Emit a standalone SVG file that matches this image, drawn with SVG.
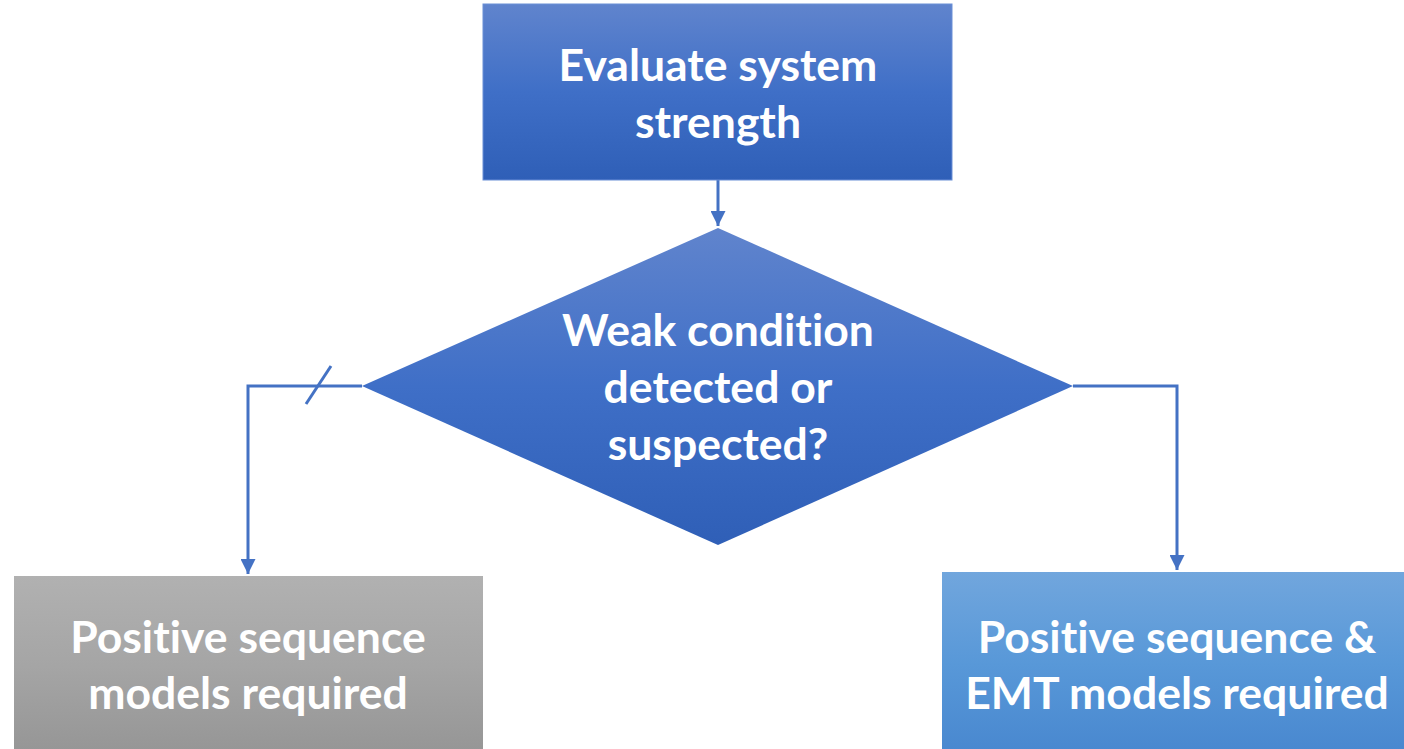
<svg xmlns="http://www.w3.org/2000/svg" width="1404" height="749" viewBox="0 0 1404 749">
<defs>
<linearGradient id="gBlue" x1="0" y1="0" x2="0" y2="1"><stop offset="0" stop-color="#6084cd"/><stop offset="0.5" stop-color="#3f6fc7"/><stop offset="1" stop-color="#2f5fb7"/></linearGradient>
<linearGradient id="gGray" x1="0" y1="0" x2="0" y2="1"><stop offset="0" stop-color="#b1b1b1"/><stop offset="0.5" stop-color="#a5a5a5"/><stop offset="1" stop-color="#959595"/></linearGradient>
<linearGradient id="gLight" x1="0" y1="0" x2="0" y2="1"><stop offset="0" stop-color="#71a6dd"/><stop offset="0.5" stop-color="#5898d8"/><stop offset="1" stop-color="#4887cf"/></linearGradient>
<marker id="arr" viewBox="0 0 10 10" refX="10" refY="5" markerWidth="5" markerHeight="5" markerUnits="strokeWidth" orient="auto"><path d="M0,0 L10,5 L0,10 z" fill="#4472c4"/></marker>
</defs>
<style>
.t{font-family:Lato,"Liberation Sans",sans-serif;font-weight:bold;font-size:44.5px;fill:#fff;text-anchor:middle;font-variant-ligatures:none}
.c{fill:none;stroke:#4472c4;stroke-width:3}
</style>
<g id="connectors">
<path class="c" d="M718,180 V226" marker-end="url(#arr)"/>
<path class="c" d="M362,386 H248 V574" marker-end="url(#arr)"/>
<path class="c" d="M306,404 L331,366"/>
<path class="c" d="M1073,386 H1177 V570" marker-end="url(#arr)"/>
</g>
<g id="evaluate">
<rect x="483" y="4" width="469" height="176" fill="url(#gBlue)" stroke="#6a8fd6" stroke-width="1"/>
<text class="t" x="718" y="81">Evaluate system</text>
<text class="t" x="718" y="138">strength</text>
</g>
<g id="decision">
<polygon points="718,228 1073,386 718,545 362,386" fill="url(#gBlue)"/>
<text class="t" x="718" y="346">Weak condition</text>
<text class="t" x="718" y="403">detected or</text>
<text class="t" x="718" y="460">suspected?</text>
</g>
<g id="positive">
<rect x="14" y="576" width="469" height="180" fill="url(#gGray)"/>
<text class="t" x="248" y="653">Positive sequence</text>
<text class="t" x="248" y="709">models required</text>
</g>
<g id="emt">
<rect x="942" y="572" width="466" height="184" fill="url(#gLight)"/>
<text class="t" x="1177" y="653">Positive sequence &amp;</text>
<text class="t" x="1177" y="709">EMT models required</text>
</g>
</svg>
